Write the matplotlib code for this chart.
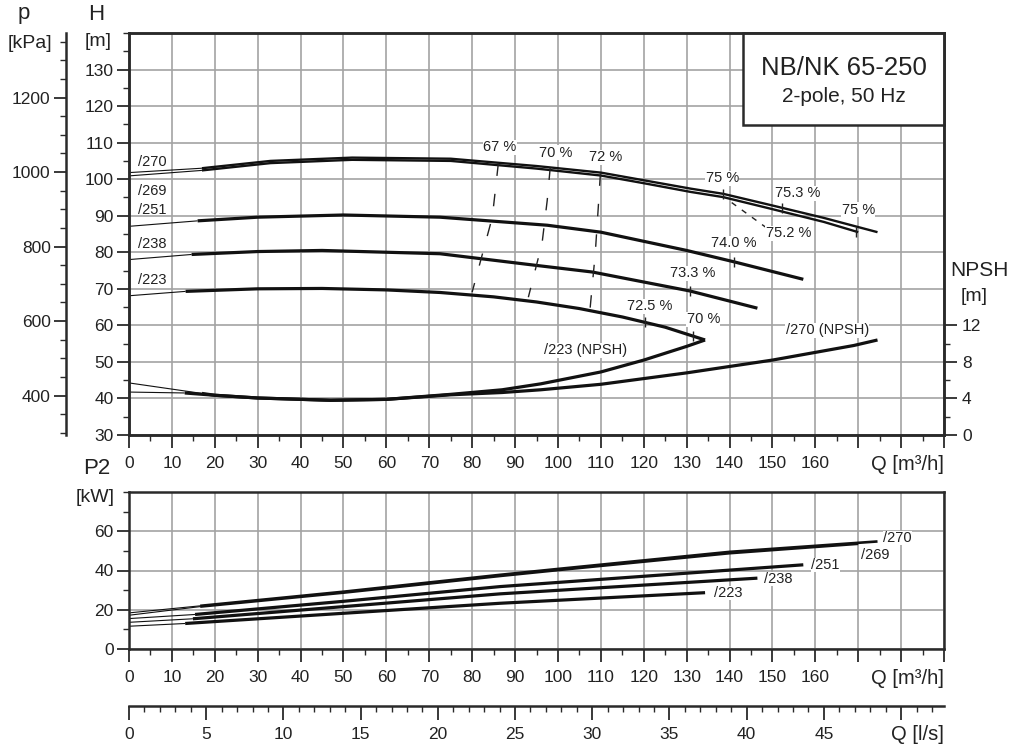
import matplotlib
matplotlib.use("Agg")
import matplotlib.pyplot as plt
import numpy as np
from matplotlib.ticker import MultipleLocator, FixedLocator, FuncFormatter
from matplotlib.patches import Rectangle

plt.rcParams['font.family'] = ['Liberation Sans', 'DejaVu Sans']

# ---------------- data ----------------
# H-Q curves: first point is the thin start (Q=0), rest is the thick part
q_270 = [0, 17, 33, 52, 75, 95, 110, 120, 131, 138.5, 150, 162, 170, 174.5]
h_270 = [101.8, 103.0, 105.0, 105.9, 105.6, 103.6, 101.8, 99.7, 97.4, 96.0, 92.8, 89.4, 86.9, 85.5]
q_269 = [0, 17, 33, 52, 75, 95, 110, 120, 131, 138.5, 150, 162, 170]
h_269 = [100.9, 102.4, 104.4, 105.3, 105.0, 102.9, 101.0, 98.9, 96.5, 95.1, 91.8, 88.3, 85.5]
q_251 = [0, 16, 30, 50, 72.5, 97.5, 110, 130, 141, 157.2]
h_251 = [87.1, 88.6, 89.6, 90.2, 89.6, 87.4, 85.5, 80.5, 77.4, 72.6]
q_238 = [0, 14.6, 30, 45, 72.5, 95, 108, 130.8, 146.5]
h_238 = [78.0, 79.4, 80.2, 80.5, 79.6, 76.4, 74.6, 69.4, 64.7]
q_223 = [0, 13.2, 30, 45, 60, 72.5, 85, 95, 105, 115, 125, 134.3]
h_223 = [68.1, 69.3, 70.0, 70.1, 69.7, 69.0, 67.8, 66.4, 64.6, 62.3, 59.5, 56.0]

# NPSH curves
q_npsh_223 = [0, 13, 20, 30, 47, 60, 75, 87, 96, 110, 120, 130, 134.3]
npsh_223 = [4.7, 4.6, 4.35, 4.05, 3.8, 3.9, 4.45, 4.95, 5.6, 6.9, 8.2, 9.7, 10.4]
q_npsh_270 = [0, 17, 20, 30, 47, 60, 75, 87, 96, 110, 130, 150, 169, 174.5]
npsh_270 = [5.7, 4.55, 4.35, 4.05, 3.8, 3.9, 4.4, 4.65, 4.95, 5.55, 6.8, 8.2, 9.8, 10.4]

# P2 curves
p2q_270 = [0, 16.6, 50, 86.5, 100, 140, 174.5]
p2_270 = [18.4, 22.0, 29.2, 37.8, 40.8, 49.5, 54.8]
p2q_269 = [0, 16.6, 50, 86.5, 100, 140, 170]
p2_269 = [17.2, 21.6, 28.7, 37.2, 40.2, 48.8, 53.6]
p2q_251 = [0, 15.4, 50, 86.5, 157.2]
p2_251 = [15.5, 17.6, 24.3, 31.8, 42.9]
p2q_238 = [0, 14.9, 50, 86.5, 146.5]
p2_238 = [13.6, 15.4, 21.6, 28.1, 36.1]
p2q_223 = [0, 13.1, 50, 86.5, 134.3]
p2_223 = [11.6, 13.0, 18.2, 23.3, 28.7]

# efficiency iso-lines (dashed)
eff67_q = [86.1, 84.7, 80.0]
eff67_h = [104.3, 89.6, 69.1]
eff70_q = [98.2, 97.5, 96.3, 93.1]
eff70_h = [103.2, 94.2, 82.5, 67.7]
eff72_q = [109.9, 109.4, 108.7, 107.5]
eff72_h = [101.6, 92.3, 79.7, 64.7]

# best-efficiency tick positions (Q on each curve)
bep_270_q = [138.5, 152.3]
bep_269_q = [169.5]
bep_251_q = [141.0]
bep_238_q = [130.8]
bep_223_q = [120.3, 131.5]

x_ticks_m3h = list(range(0, 191, 10))
x_ticks_ls = list(range(0, 51, 5))
h_ticks = list(range(30, 131, 10))
p_ticks = [400, 600, 800, 1000, 1200]
npsh_ticks = [0, 4, 8, 12]
p2_ticks = [0, 20, 40, 60]

# ---------------- figure ----------------
W, H = 1011, 749
fig = plt.figure(figsize=(W / 100, H / 100), dpi=100)
DARK = '#2a2a2a'
GRID = '#a3a3a3'
TH, TN = 2.3, 0.8
FS = 12.5


def px(x, y):
    return x / W, 1 - y / H


L, R = 129 / W, 944 / W
ax = fig.add_axes([L, 1 - 435 / H, R - L, (435 - 33) / H])
ax2 = fig.add_axes([L, 1 - 649 / H, R - L, (649 - 492) / H])
ax3 = fig.add_axes([L, 1 - 706 / H, R - L, 0.0001])


def style_axes(a):
    for s in a.spines.values():
        s.set_color(DARK)
        s.set_linewidth(1.8)
    a.tick_params(which='major', direction='out', length=9, width=1.3,
                  colors=DARK, labelsize=FS, labelcolor='#222')
    a.tick_params(which='minor', direction='out', length=4.5, width=1.0, colors=DARK)
    a.tick_params(axis='x', which='major', pad=6)
    a.tick_params(axis='y', which='major', pad=2)


xfmt = FuncFormatter(lambda v, p: f"{v:.0f}" if v <= 160 else "")

# ---- main H axes ----
ax.set_xlim(0, 190)
ax.set_ylim(30, 140)
ax.xaxis.set_major_locator(FixedLocator(x_ticks_m3h))
ax.xaxis.set_minor_locator(MultipleLocator(5))
ax.xaxis.set_major_formatter(xfmt)
ax.yaxis.set_major_locator(FixedLocator(h_ticks))
ax.yaxis.set_minor_locator(MultipleLocator(5))
ax.grid(True, which='major', color=GRID, lw=1.2)
ax.set_axisbelow(True)
style_axes(ax)


def draw_curve(a, q, v, lw=TH):
    a.plot(q[:2], v[:2], color='#111', lw=TN, solid_capstyle='butt')
    a.plot(q[1:], v[1:], color='#111', lw=lw, solid_capstyle='butt',
           solid_joinstyle='round')


draw_curve(ax, q_270, h_270, lw=1.7)
draw_curve(ax, q_269, h_269, lw=1.7)
draw_curve(ax, q_251, h_251)
draw_curve(ax, q_238, h_238)
draw_curve(ax, q_223, h_223)

for eq, eh in [(eff67_q, eff67_h), (eff70_q, eff70_h), (eff72_q, eff72_h)]:
    ax.plot(eq, eh, color='#222', lw=1.0, ls=(0, (9, 13)))

for bq, cq, ch in [(bep_270_q, q_270, h_270), (bep_269_q, q_269, h_269),
                   (bep_251_q, q_251, h_251), (bep_238_q, q_238, h_238),
                   (bep_223_q, q_223, h_223)]:
    ax.plot(bq, np.interp(bq, cq, ch), ls='none', marker='|', ms=7, mew=1.0, color='#222')

# short dashed leader to 75.2 %
ax.plot([140.5, 148.5], [93.6, 86.8], color='#222', lw=1.0, ls=(0, (4, 5)))

efs = 10.5
for txt, xq, yh in [('67 %', 86.5, 108.7), ('70 %', 99.4, 107.3), ('72 %', 111.0, 106.0),
                    ('75 %', 138.3, 100.2), ('75.3 %', 155.8, 96.1), ('75 %', 170.0, 91.7),
                    ('75.2 %', 153.7, 85.2), ('74.0 %', 140.9, 82.5), ('73.3 %', 131.5, 74.3),
                    ('72.5 %', 121.3, 65.2), ('70 %', 133.9, 61.7),
                    ('/223 (NPSH)', 106.4, 53.2), ('/270 (NPSH)', 162.8, 58.7)]:
    ax.text(xq, yh, txt, fontsize=efs, ha='center', va='center', color='#222',
            bbox=dict(fc='white', ec='none', pad=0.3))

for txt, yh in [('/270', 104.6), ('/269', 96.7), ('/251', 91.5), ('/238', 82.3), ('/223', 72.3)]:
    ax.text(2.0, yh, txt, fontsize=efs, ha='left', va='center', color='#222')

# title box
ax.add_patch(Rectangle(((743 - 129) / 815, (435 - 125) / 402), 1 - (743 - 129) / 815,
                       1 - (435 - 125) / 402, transform=ax.transAxes, fc='white',
                       ec=DARK, lw=1.8, zorder=5, clip_on=False))
ax.text(0.877, (435 - 68) / 402, 'NB/NK 65-250', transform=ax.transAxes, fontsize=18.5,
        ha='center', va='center', color='#222', zorder=6)
ax.text(0.877, (435 - 97) / 402, '2-pole, 50 Hz', transform=ax.transAxes, fontsize=15,
        ha='center', va='center', color='#222', zorder=6)

# p axis (kPa)
pax = ax.secondary_yaxis(-63 / 815, functions=(lambda h: h * 9.81, lambda p: p / 9.81))
pax.set_yticks(p_ticks)
pax.yaxis.set_minor_locator(MultipleLocator(50))
for s in pax.spines.values():
    s.set_color(DARK)
    s.set_linewidth(1.8)
pax.tick_params(which='major', direction='out', length=9, width=1.3, colors=DARK,
                labelsize=FS, labelcolor='#222', pad=2)
pax.tick_params(which='minor', direction='out', length=4.5, width=1.0, colors=DARK)

# NPSH axis
tw = ax.twinx()
tw.set_ylim(0, 44)
tw.yaxis.set_major_locator(FixedLocator(npsh_ticks))
tw.yaxis.set_minor_locator(FixedLocator([2, 6, 10]))
style_axes(tw)
tw.tick_params(axis='y', which='major', pad=4)
draw_curve(tw, q_npsh_223, npsh_223)
draw_curve(tw, q_npsh_270, npsh_270)

# ---- P2 axes ----
ax2.set_xlim(0, 190)
ax2.set_ylim(0, 80)
ax2.xaxis.set_major_locator(FixedLocator(x_ticks_m3h))
ax2.xaxis.set_minor_locator(MultipleLocator(5))
ax2.xaxis.set_major_formatter(xfmt)
ax2.yaxis.set_major_locator(FixedLocator(p2_ticks))
ax2.yaxis.set_minor_locator(MultipleLocator(10))
ax2.grid(True, which='major', color=GRID, lw=1.2)
ax2.set_axisbelow(True)
style_axes(ax2)
draw_curve(ax2, p2q_270, p2_270, lw=1.9)
draw_curve(ax2, p2q_269, p2_269, lw=1.9)
draw_curve(ax2, p2q_251, p2_251)
draw_curve(ax2, p2q_238, p2_238)
draw_curve(ax2, p2q_223, p2_223)
for txt, xq, yv in [('/270', 179.1, 56.6), ('/269', 174.0, 48.0), ('/251', 162.3, 42.9),
                    ('/238', 151.4, 35.7), ('/223', 139.7, 28.6)]:
    ax2.text(xq, yv, txt, fontsize=efs, ha='center', va='center', color='#222',
             bbox=dict(fc='white', ec='none', pad=0.2))

# ---- l/s axis ----
ax3.set_xlim(0, 190 / 3.6)
ax3.set_yticks([])
for k in ['top', 'left', 'right']:
    ax3.spines[k].set_visible(False)
ax3.patch.set_alpha(0)
ax3.xaxis.set_major_locator(FixedLocator(x_ticks_ls))
ax3.xaxis.set_minor_locator(MultipleLocator(1))
ax3.xaxis.set_major_formatter(FuncFormatter(lambda v, p: f"{v:.0f}" if v <= 45 else ""))
style_axes(ax3)
ax3.tick_params(axis='x', which='major', length=10, pad=5)
ax3.tick_params(axis='x', which='minor', length=4)

# ---- axis titles ----
def ftext(x, y, s, size, ha='center'):
    fig.text(*px(x, y), s, fontsize=size, ha=ha, va='center', color='#222')


ftext(24, 14, 'p', 16)
ftext(30, 43, '[kPa]', 14)
ftext(96, 14, 'H', 16)
ftext(98, 41, '[m]', 14)
ftext(950, 270, 'NPSH', 15, ha='left')
ftext(974, 296, '[m]', 14)
ftext(97, 469, 'P2', 16)
ftext(95, 497, '[kW]', 14)
ftext(944, 465, 'Q [m³/h]', 14.5, ha='right')
ftext(944, 678, 'Q [m³/h]', 14.5, ha='right')
ftext(944, 734, 'Q [l/s]', 14.5, ha='right')

fig.savefig('out.png', dpi=100)
